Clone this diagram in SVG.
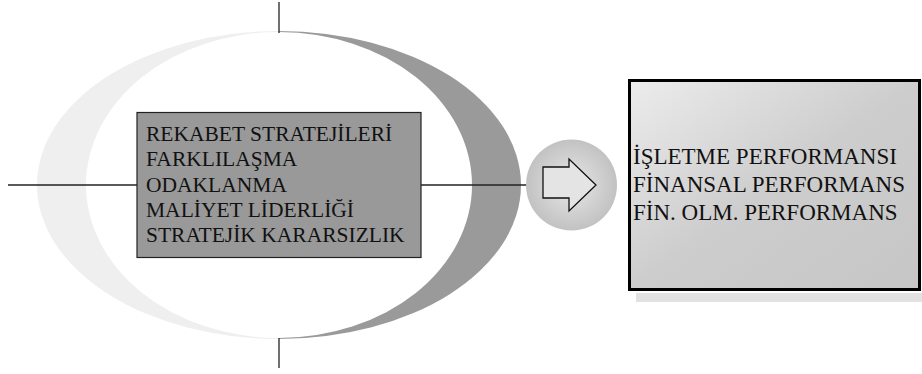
<svg xmlns="http://www.w3.org/2000/svg" width="922" height="374" viewBox="0 0 922 374">
<style>
.ln{stroke:#222;stroke-width:1.3;fill:none}
</style>
<defs>
<radialGradient id="gc" cx="0.5" cy="0.5" r="0.5">
<stop offset="0" stop-color="#e8e8e8"/>
<stop offset="1" stop-color="#c2c2c2"/>
</radialGradient>
<linearGradient id="gb" x1="0" y1="0" x2="1" y2="1">
<stop offset="0" stop-color="#ececec"/>
<stop offset="0.5" stop-color="#cdcdcd"/>
<stop offset="1" stop-color="#c6c6c6"/>
</linearGradient>
</defs>
<g id="ring">
<path d="M279,31 A242,154 0 0 0 279,339 Z" fill="#efefef"/>
<path d="M279,31 A242,154 0 0 1 279,339 Z" fill="#9a9a9a"/>
<ellipse cx="279" cy="185" rx="193" ry="153" fill="#fff"/>
</g>
<g id="connectors">
<line class="ln" x1="279" y1="2" x2="279" y2="33"/>
<line class="ln" x1="279" y1="338" x2="279" y2="368"/>
<line class="ln" x1="8" y1="185" x2="137" y2="185"/>
<line class="ln" x1="421" y1="185" x2="527" y2="185"/>
</g>
<g id="strategies">
<rect x="137" y="112.5" width="284" height="145" fill="#999" stroke="#222" stroke-width="1.2"/>
<g font-family="'Liberation Serif', 'Times New Roman', Times, serif" font-size="21.5" fill="#111">
<text x="146" y="140.5">REKABET STRATEJİLERİ</text>
<text x="146" y="166">FARKLILAŞMA</text>
<text x="146" y="191.5">ODAKLANMA</text>
<text x="146" y="217">MALİYET LİDERLİĞİ</text>
<text x="146" y="241.5">STRATEJİK KARARSIZLIK</text>
</g>
</g>
<g id="arrow">
<circle cx="571.5" cy="185" r="45.5" fill="url(#gc)"/>
<path d="M543,167 L569,167 L569,159 L596,185 L569,211 L569,198 L543,198 Z" fill="#e4e4e4" stroke="#111" stroke-width="1.3" stroke-linejoin="miter"/>
</g>
<g id="performance">
<rect x="636" y="293" width="286" height="9" fill="#e2e2e2"/>
<rect x="629.5" y="80.5" width="290" height="209" fill="url(#gb)" stroke="#000" stroke-width="3"/>
<g font-family="'Liberation Serif', 'Times New Roman', Times, serif" font-size="23" fill="#111">
<text x="633" y="164">İŞLETME PERFORMANSI</text>
<text x="633" y="192">FİNANSAL PERFORMANS</text>
<text x="633" y="219.5">FİN. OLM. PERFORMANS</text>
</g>
</g>
</svg>
